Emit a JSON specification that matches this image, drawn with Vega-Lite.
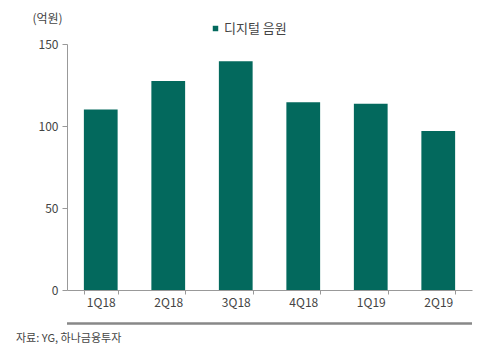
{
  "$schema": "https://vega.github.io/schema/vega-lite/v6.json",
  "width": 405,
  "height": 246,
  "autosize": "none",
  "padding": {"left": 67, "top": 44, "right": 28, "bottom": 73},
  "background": "white",
  "config": {
    "font": "Noto Sans CJK KR",
    "view": {"stroke": null}
  },
  "title": {
    "text": "자료: YG, 하나금융투자",
    "orient": "bottom",
    "anchor": "start",
    "frame": "group",
    "dx": -51,
    "offset": 8,
    "fontSize": 11,
    "fontWeight": "normal",
    "color": "#444444"
  },
  "data": {
    "values": [
      {"quarter": "1Q18", "value": 110, "series": "디지털 음원"},
      {"quarter": "2Q18", "value": 127.5, "series": "디지털 음원"},
      {"quarter": "3Q18", "value": 139.5, "series": "디지털 음원"},
      {"quarter": "4Q18", "value": 114.5, "series": "디지털 음원"},
      {"quarter": "1Q19", "value": 113.5, "series": "디지털 음원"},
      {"quarter": "2Q19", "value": 97, "series": "디지털 음원"}
    ]
  },
  "layer": [
    {
      "mark": {"type": "bar"},
      "encoding": {
        "x": {
          "field": "quarter",
          "type": "nominal",
          "sort": null,
          "scale": {"paddingInner": 0.5, "paddingOuter": 0.25},
          "axis": {
            "title": null,
            "labelAngle": 0,
            "tickBand": "extent",
            "tickSize": 4,
            "tickColor": "#999999",
            "domainColor": "#999999",
            "labelFontSize": 12,
            "labelColor": "#444444",
            "labelPadding": 3
          }
        },
        "y": {
          "field": "value",
          "type": "quantitative",
          "scale": {"domain": [0, 150], "nice": false},
          "axis": {
            "values": [0, 50, 100, 150],
            "grid": false,
            "title": "(억원)",
            "titleAngle": 0,
            "titleX": -20,
            "titleY": -26,
            "titleAlign": "center",
            "titleBaseline": "middle",
            "titleFontSize": 12,
            "titleFontWeight": "normal",
            "titleColor": "#444444",
            "tickSize": 5,
            "tickColor": "#999999",
            "domainColor": "#999999",
            "labelFontSize": 12,
            "labelColor": "#444444",
            "labelPadding": 4
          }
        },
        "color": {
          "field": "series",
          "type": "nominal",
          "scale": {"range": ["#03695D"]},
          "legend": {
            "title": null,
            "orient": "none",
            "legendX": 142,
            "legendY": -22,
            "symbolType": "square",
            "symbolSize": 30,
            "labelFontSize": 13,
            "labelColor": "#444444",
            "labelOffset": 2
          }
        }
      }
    },
    {
      "data": {"values": [{"v": -20.5}, {"v": -20.5}]},
      "mark": {"type": "rule", "color": "#888888", "strokeWidth": 2, "clip": false},
      "encoding": {"y": {"field": "v", "type": "quantitative"}}
    }
  ]
}
